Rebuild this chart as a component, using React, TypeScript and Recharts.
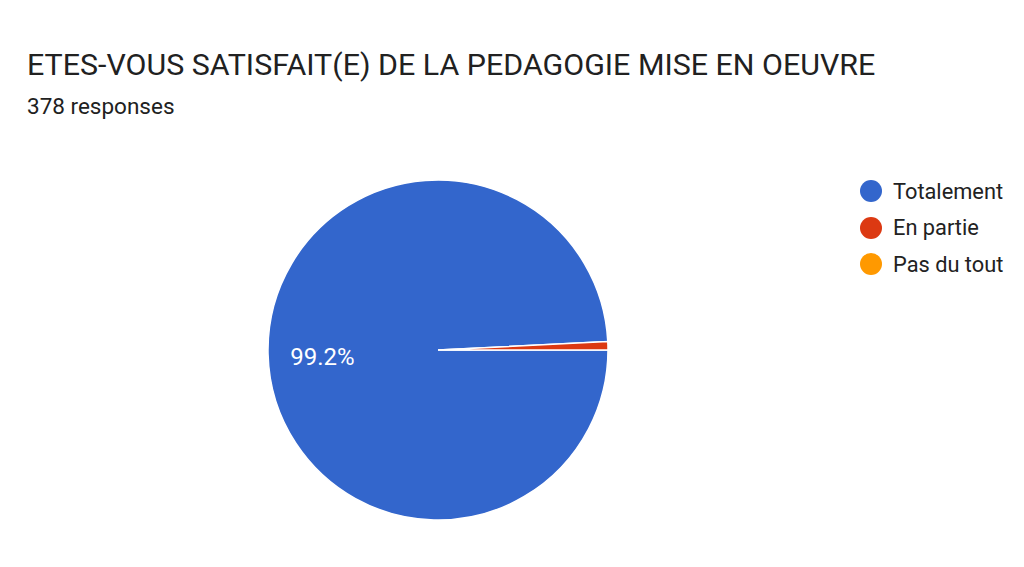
import { PieChart, Pie, Cell, Legend } from 'recharts';

const categories = ['Totalement', 'En partie', 'Pas du tout'];
const counts = [375, 3, 0];
const colors = ['#3366cc', '#dc3912', '#ff9900'];

const title = 'ETES-VOUS SATISFAIT(E) DE LA PEDAGOGIE MISE EN OEUVRE';
const subtitle = '378 responses';

const data = categories.map((name, i) => ({ name, value: counts[i] }));

const RADIAN = Math.PI / 180;

// Google-style label: percentage inside the slice, only for big slices
function renderLabel(props: any) {
  const { cx, cy, midAngle, outerRadius, percent } = props;
  if (percent < 0.05) return null;
  const r = outerRadius * 0.68;
  const x = cx + r * Math.cos(-midAngle * RADIAN);
  const y = cy + r * Math.sin(-midAngle * RADIAN);
  return (
    <text
      x={x}
      y={y + 4}
      fill="#ffffff"
      fontSize={24}
      fontFamily="Roboto, Arial, sans-serif"
      textAnchor="middle"
      dominantBaseline="central"
    >
      {`${(percent * 100).toFixed(1)}%`}
    </text>
  );
}

function LegendContent() {
  return (
    <div style={{ fontFamily: 'Roboto, Arial, sans-serif' }}>
      {categories.map((name, i) => (
        <div
          key={name}
          style={{ display: 'flex', alignItems: 'center', height: 36.5 }}
        >
          <span
            style={{
              width: 22,
              height: 22,
              borderRadius: '50%',
              background: colors[i],
              display: 'inline-block',
              marginRight: 11,
            }}
          />
          <span style={{ fontSize: 21.8, color: '#222222' }}>{name}</span>
        </div>
      ))}
    </div>
  );
}

export default function App() {
  return (
    <div
      style={{
        position: 'absolute',
        left: 0,
        top: 0,
        width: 1024,
        height: 567,
        background: '#ffffff',
        fontFamily: 'Roboto, Arial, sans-serif',
      }}
    >
      <div
        style={{
          position: 'absolute',
          left: 27,
          top: 47,
          fontSize: 30.4,
          color: '#212121',
          whiteSpace: 'nowrap',
        }}
      >
        {title}
      </div>
      <div
        style={{
          position: 'absolute',
          left: 27,
          top: 93,
          fontSize: 22.5,
          color: '#212121',
        }}
      >
        {subtitle}
      </div>
      <PieChart
        width={1024}
        height={567}
        margin={{ top: 0, right: 0, bottom: 0, left: 0 }}
        style={{ position: 'absolute', left: 0, top: 0 }}
      >
        <Pie
          data={data}
          dataKey="value"
          nameKey="name"
          cx={438}
          cy={350}
          outerRadius={170}
          startAngle={0}
          endAngle={-360}
          stroke="#ffffff"
          strokeWidth={1.5}
          label={renderLabel}
          labelLine={false}
          isAnimationActive={false}
        >
          {data.map((d, i) => (
            <Cell key={d.name} fill={colors[i]} />
          ))}
        </Pie>
        <Legend
          layout="vertical"
          align="right"
          verticalAlign="top"
          content={<LegendContent />}
          wrapperStyle={{ left: 860, top: 173, width: 164 }}
        />
      </PieChart>
    </div>
  );
}
